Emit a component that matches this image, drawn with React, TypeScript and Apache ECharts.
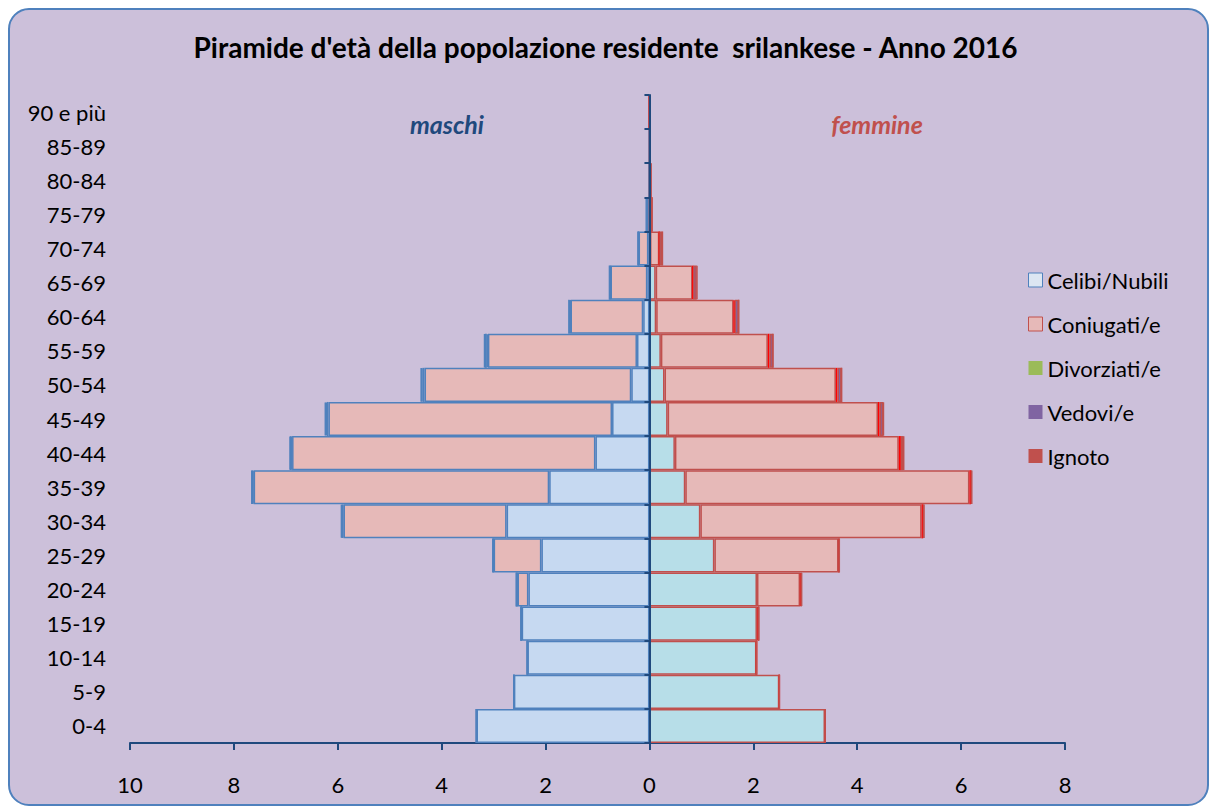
import React, { useEffect, useRef } from "react";
import * as echarts from "echarts";

const categories = ["0-4", "5-9", "10-14", "15-19", "20-24", "25-29", "30-34", "35-39", "40-44", "45-49", "50-54", "55-59", "60-64", "65-69", "70-74", "75-79", "80-84", "85-89", "90 e più"];

// Maschi (percent)
const maleCelibi = [3.33, 2.61, 2.35, 2.46, 2.33, 2.08, 2.75, 1.93, 1.04, 0.72, 0.35, 0.24, 0.12, 0.04, 0.02, 0.01, 0, 0, 0];
const maleConiugati = [0, 0, 0, 0.01, 0.21, 0.92, 3.14, 5.69, 5.84, 5.46, 3.98, 2.87, 1.4, 0.71, 0.19, 0.04, 0.01, 0, 0];
const maleDivorziati = [0, 0, 0, 0, 0.01, 0.01, 0.02, 0.02, 0.02, 0.03, 0.04, 0.02, 0.01, 0, 0, 0, 0, 0, 0];
const maleVedovi = [0, 0, 0, 0, 0, 0, 0.01, 0.01, 0.01, 0.02, 0.02, 0.04, 0.02, 0.02, 0.01, 0.01, 0, 0, 0];
const maleIgnoto = [0, 0, 0, 0, 0.03, 0.01, 0.02, 0.01, 0.02, 0.02, 0.01, 0.01, 0, 0, 0, 0, 0, 0, 0];

// Femmine (percent)
const femCelibi = [3.38, 2.5, 2.06, 2.07, 2.07, 1.25, 0.98, 0.69, 0.49, 0.35, 0.29, 0.22, 0.13, 0.12, 0.01, 0, 0, 0, 0];
const femConiugati = [0, 0, 0, 0.02, 0.83, 2.39, 4.26, 5.47, 4.31, 4.05, 3.3, 2.06, 1.49, 0.71, 0.18, 0.04, 0.02, 0.01, 0];
const femDivorziati = [0, 0, 0, 0.01, 0.02, 0.01, 0.03, 0.03, 0.04, 0.03, 0.03, 0.03, 0.02, 0.01, 0, 0, 0, 0, 0];
const femVedovi = [0, 0, 0, 0, 0, 0, 0.01, 0.01, 0.05, 0.07, 0.08, 0.07, 0.08, 0.07, 0.06, 0.01, 0.01, 0, 0];
const femIgnoto = [0, 0, 0, 0.01, 0.02, 0.01, 0.01, 0.01, 0.01, 0.01, 0, 0, 0, 0.01, 0, 0, 0, 0, 0];

const xTicks = [-10, -8, -6, -4, -2, 0, 2, 4, 6, 8];

const FONT = "Lato, 'Noto Sans', sans-serif";
const BLUE = "#4F81BD";
const RED = "#C0504D";

export default function App() {
  const ref = useRef<HTMLDivElement>(null);
  useEffect(() => {
    if (!ref.current) return;
    const chart = echarts.init(ref.current, null, { renderer: "svg" });
    const neg = (a: number[]) => a.map((v) => -v);
    const mk = (name: string, data: number[], stack: string, color: string, border: string) => ({
      name,
      type: "bar",
      stack,
      data,
      barWidth: "100%",
      barGap: "-100%",
      barCategoryGap: "0%",
      itemStyle: { color, borderColor: border, borderWidth: 1.5 },
      emphasis: { disabled: true },
    });
    chart.setOption({
      animation: false,
      backgroundColor: "transparent",
      title: {
        text: "Piramide d'età della popolazione residente  srilankese - Anno 2016",
        left: "center",
        top: 33,
        padding: 0,
        textStyle: { fontFamily: FONT, fontSize: 28, fontWeight: "bold", color: "#000" },
      },
      graphic: [
        {
          type: "rect",
          z: -10,
          silent: true,
          shape: { x: 9, y: 9, width: 1199, height: 796, r: 20 },
          style: { fill: "#CCC0DA", stroke: BLUE, lineWidth: 2 },
        },
        {
          type: "text",
          x: 447,
          y: 124,
          style: { text: "maschi", fill: "#1F497D", font: `italic bold 25px ${FONT}`, align: "center", verticalAlign: "middle" },
        },
        {
          type: "text",
          x: 877,
          y: 124,
          style: { text: "femmine", fill: RED, font: `italic bold 25px ${FONT}`, align: "center", verticalAlign: "middle" },
        },
      ],
      legend: {
        orient: "vertical",
        left: 1028,
        top: 269,
        padding: 0,
        itemWidth: 14,
        itemHeight: 14,
        itemGap: 22,
        icon: "rect",
        textStyle: { fontFamily: FONT, fontSize: 22, color: "#000" },
        selectedMode: false,
        data: [
          { name: "Celibi/Nubili", itemStyle: { color: "#DCE6F2", borderColor: BLUE, borderWidth: 1 } },
          { name: "Coniugati/e", itemStyle: { color: "#E6B9B8", borderColor: RED, borderWidth: 1 } },
          { name: "Divorziati/e", itemStyle: { color: "#9BBB59", borderWidth: 0 } },
          { name: "Vedovi/e", itemStyle: { color: "#8064A2", borderWidth: 0 } },
          { name: "Ignoto", itemStyle: { color: RED, borderWidth: 0 } },
        ],
      },
      grid: { left: 130, right: 146, top: 95, bottom: 64, containLabel: false },
      xAxis: {
        type: "value",
        min: -10,
        max: 8,
        interval: 2,
        splitLine: { show: false },
        axisLine: { show: true, onZero: false, lineStyle: { color: "#1F497D", width: 2 } },
        axisTick: { show: true, length: 7, inside: false, lineStyle: { color: "#1F497D", width: 2 } },
        axisLabel: {
          fontFamily: FONT,
          fontSize: 22,
          color: "#000",
          margin: 30,
          formatter: (v: number) => (xTicks.includes(v) ? String(Math.abs(v)) : ""),
        },
      },
      yAxis: [
        {
          type: "category",
          data: categories,
          position: "left",
          axisLine: { show: false, onZero: false },
          axisTick: { show: false },
          axisLabel: { fontFamily: FONT, fontSize: 22, color: "#000", margin: 24 },
          splitLine: { show: false },
        },
        {
          type: "category",
          data: categories,
          position: "left",
          z: 10,
          axisLine: { show: true, onZero: true, lineStyle: { color: "#1F497D", width: 2 } },
          axisTick: { show: true, length: 5, inside: false, lineStyle: { color: "#1F497D", width: 2 } },
          axisLabel: { show: false },
          splitLine: { show: false },
        },
      ],
      series: [
        mk("Celibi/Nubili", neg(maleCelibi), "m", "#C6D9F1", BLUE),
        mk("Coniugati/e", neg(maleConiugati), "m", "#E6B9B8", BLUE),
        mk("Divorziati/e", neg(maleDivorziati), "m", "#9BBB59", BLUE),
        mk("Vedovi/e", neg(maleVedovi), "m", "#8064A2", BLUE),
        mk("Ignoto", neg(maleIgnoto), "m", RED, BLUE),
        mk("Celibi/Nubili", femCelibi, "f", "#B7DEE8", RED),
        mk("Coniugati/e", femConiugati, "f", "#E6B9B8", RED),
        mk("Divorziati/e", femDivorziati, "f", "#9BBB59", "#FF0000"),
        mk("Vedovi/e", femVedovi, "f", "#8064A2", RED),
        mk("Ignoto", femIgnoto, "f", "#FF0000", RED),
      ],
    });
    return () => chart.dispose();
  }, []);
  return (
    <div
      ref={ref}
      style={{ position: "absolute", left: 0, top: 0, width: 1211, height: 807 }}
    />
  );
}
